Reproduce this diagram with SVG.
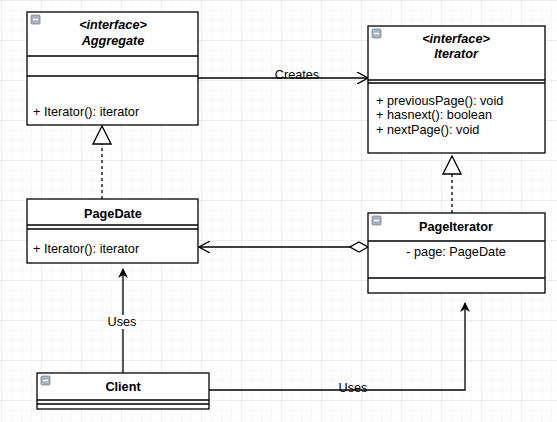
<svg xmlns="http://www.w3.org/2000/svg" width="557" height="422" viewBox="0 0 557 422">
<defs>
<pattern id="minor" x="2" y="1" width="10" height="10" patternUnits="userSpaceOnUse">
<path d="M10 0V10M0 10H10" fill="none" stroke="#f0f0f0" stroke-width="1"/>
</pattern>
<pattern id="major" x="2" y="1" width="40" height="40" patternUnits="userSpaceOnUse">
<path d="M40 0V40M0 40H40" fill="none" stroke="#e3e3e3" stroke-width="1"/>
</pattern>
<marker id="open" viewBox="0 0 12 12" refX="11" refY="6" markerWidth="12" markerHeight="12" markerUnits="userSpaceOnUse" orient="auto">
<path d="M0 0L11 6L0 12" fill="none" stroke="#000" stroke-width="1.3"/>
</marker>
<marker id="block" viewBox="0 0 10 10" refX="9" refY="5" markerWidth="10" markerHeight="10" markerUnits="userSpaceOnUse" orient="auto">
<path d="M0 0L10 5L0 10L3 5Z" fill="#000"/>
</marker>
<marker id="tri" viewBox="0 0 20 20" refX="19" refY="10" markerWidth="20" markerHeight="20" markerUnits="userSpaceOnUse" orient="auto">
<path d="M19 10L1 1L1 19Z" fill="#fff" stroke="#000" stroke-width="1.3"/>
</marker>
<marker id="diamond" viewBox="0 0 20 12" refX="1" refY="6" markerWidth="20" markerHeight="12" markerUnits="userSpaceOnUse" orient="auto">
<path d="M1 6L10 1L19 6L10 11Z" fill="#fff" stroke="#000" stroke-width="1.3"/>
</marker>
<g id="icon">
<rect x="0" y="0" width="9" height="9" rx="1" fill="#a8b4c4" stroke="#7d8896" stroke-width="0.8"/>
<path d="M2 4.5H7" stroke="#fff" stroke-width="1.5"/>
</g>
</defs>
<style>
.box{fill:#fff;stroke:#000;stroke-width:1.3}
.ln{stroke:#000;stroke-width:1.3;fill:none}
.t{font-family:"Liberation Sans",Arial,sans-serif;font-size:12.7px;fill:#000}
.b{font-weight:bold}
.i{font-style:italic;font-weight:bold}
.c{text-anchor:middle}
.conn{stroke:#000;stroke-width:1.3;fill:none}
.dash{stroke-dasharray:3 3}
.lbl{font-family:"Liberation Sans",Arial,sans-serif;font-size:12.7px;fill:#000;text-anchor:middle}
</style>
<rect width="557" height="422" fill="#fff"/>
<rect width="557" height="422" fill="url(#minor)"/>
<rect width="557" height="422" fill="url(#major)"/>

<g id="connectors">
<path class="conn" d="M198 78H368" marker-end="url(#open)"/>
<text class="lbl" x="297" y="79">Creates</text>
<path class="conn dash" d="M102 199V126" marker-end="url(#tri)"/>
<path class="conn dash" d="M452 213V156" marker-end="url(#tri)"/>
<path class="conn" d="M368 247H199" marker-start="url(#diamond)" marker-end="url(#open)"/>
<path class="conn" d="M123 373V269" marker-end="url(#block)"/>
<rect x="107" y="315" width="32" height="14" fill="#fff"/>
<text class="lbl" x="122" y="326">Uses</text>
<path class="conn" d="M209 390H465V303" marker-end="url(#block)"/>
<text class="lbl" x="353" y="392">Uses</text>
</g>

<g id="Aggregate">
<rect class="box" x="27" y="12" width="171" height="113"/>
<path class="ln" d="M27 56H198M27 76H198"/>
<use href="#icon" x="31" y="15"/>
<text class="t i c" x="113" y="29">&lt;interface&gt;</text>
<text class="t i c" x="113" y="45">Aggregate</text>
<text class="t" x="33" y="116">+ Iterator(): iterator</text>
</g>

<g id="Iterator">
<rect class="box" x="368" y="26" width="177" height="127"/>
<path class="ln" d="M368 80H545M368 83H545"/>
<use href="#icon" x="372" y="29"/>
<text class="t i c" x="456" y="43">&lt;interface&gt;</text>
<text class="t i c" x="456" y="58">Iterator</text>
<text class="t" x="376" y="105">+ previousPage(): void</text>
<text class="t" x="376" y="119">+ hasnext(): boolean</text>
<text class="t" x="376" y="134">+ nextPage(): void</text>
</g>

<g id="PageDate">
<rect class="box" x="27" y="199" width="171" height="64"/>
<path class="ln" d="M27 225H198M27 229H198"/>
<text class="t b c" x="113" y="218">PageDate</text>
<text class="t" x="33" y="253">+ Iterator(): iterator</text>
</g>

<g id="PageIterator">
<rect class="box" x="368" y="213" width="177" height="80"/>
<path class="ln" d="M368 241H545M368 278H545"/>
<use href="#icon" x="372" y="216"/>
<text class="t b c" x="456" y="231">PageIterator</text>
<text class="t c" x="456" y="256">- page: PageDate</text>
</g>

<g id="Client">
<rect class="box" x="37" y="373" width="172" height="36"/>
<path class="ln" d="M37 400H209M37 404H209"/>
<use href="#icon" x="41" y="376"/>
<text class="t b c" x="123" y="391">Client</text>
</g>
</svg>
